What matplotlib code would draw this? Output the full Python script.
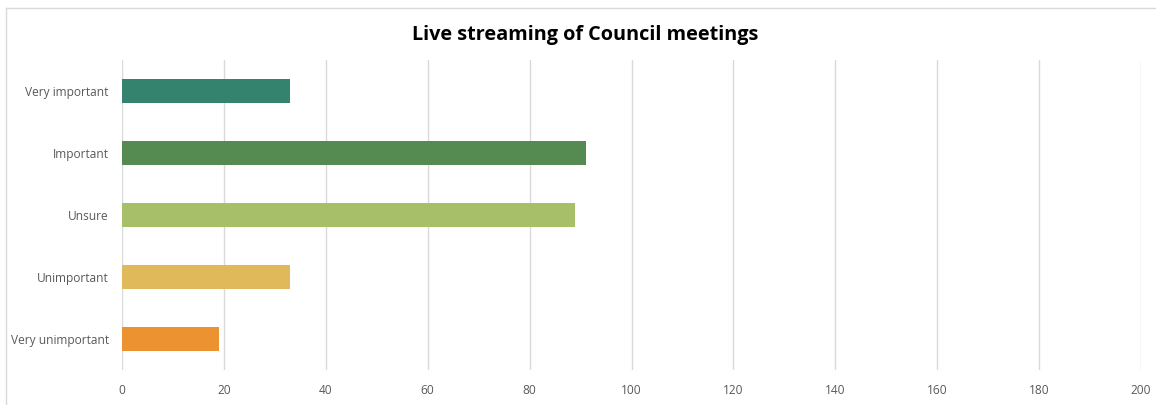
import matplotlib
matplotlib.use("Agg")
import matplotlib.pyplot as plt
from matplotlib.lines import Line2D

categories = ["Very important", "Important", "Unsure", "Unimportant", "Very unimportant"]
values = [33, 91, 89, 33, 19]
colors = ["#33836f", "#558b50", "#a8bf6a", "#dfb95a", "#ec9230"]
xticks = [0, 20, 40, 60, 80, 100, 120, 140, 160, 180, 200]
title = "Live streaming of Council meetings"

plt.rcParams['font.family'] = ['Open Sans', 'DejaVu Sans']

W, H = 1156, 405
fig = plt.figure(figsize=(W / 100, H / 100), dpi=100)
ax = fig.add_axes([122 / W, 1 - 370 / H, (1141 - 122) / W, (370 - 60) / H])

y = list(range(len(categories)))
ax.barh(y, values, height=0.4, color=colors, zorder=3)
ax.set_ylim(len(categories) - 0.5, -0.5)
ax.set_xlim(0, 200)
ax.set_xticks(xticks)
ax.set_xticklabels([str(t) for t in xticks])
ax.set_yticks(y)
ax.set_yticklabels(categories)
ax.grid(axis='x', color='#d9d9d9', linewidth=1, zorder=0)
for s in ax.spines.values():
    s.set_visible(False)
ax.tick_params(axis='both', length=0, colors='#595959', labelsize=8.6)
ax.tick_params(axis='x', pad=10)
ax.tick_params(axis='y', pad=9.5)

fig.text(585 / W, 1 - 35 / H, title, ha='center', va='center',
         fontsize=14.3, fontweight='bold', color='black')

fig.lines.append(Line2D([6 / W, 1], [1 - 8 / H, 1 - 8 / H], transform=fig.transFigure,
                        color='#d9d9d9', linewidth=1))
fig.lines.append(Line2D([6 / W, 6 / W], [0, 1 - 8 / H], transform=fig.transFigure,
                        color='#d9d9d9', linewidth=1))

fig.savefig("out.png", dpi=100, facecolor='white')
